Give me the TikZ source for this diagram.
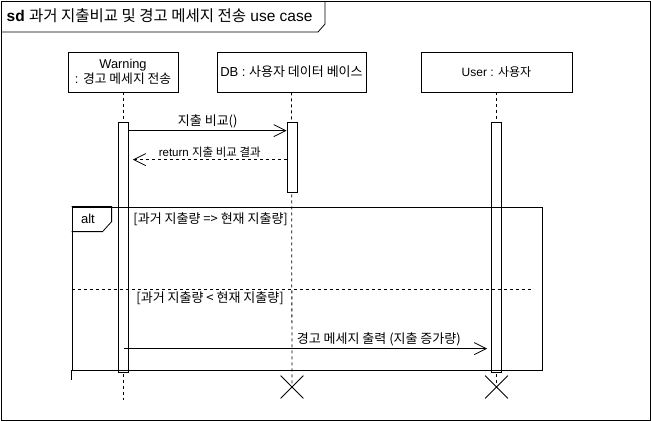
\documentclass[tikz,border=0pt]{standalone}
\usepackage{fontspec}
\setmainfont{Liberation Sans}
\newfontfamily\kr{Noto Sans CJK KR}
\usetikzlibrary{positioning,arrows.meta,shapes.misc}

\begin{document}
\begin{tikzpicture}[x=1pt,y=-1pt,line width=0.8pt,
		party/.style={draw,fill=white,minimum height=40,inner sep=2pt,align=center,font=\fontsize{12}{14}\selectfont},
		actbar/.style={draw,fill=white,minimum width=10,inner sep=0pt},
		msg/.style={-{Straight Barb[length=12pt,width=12pt]}},
		reply/.style={msg,dashed},
		lifeline/.style={dash pattern=on 3pt off 3pt},
		killx/.style={cross out,draw,minimum size=22,inner sep=0pt},
		lbl/.style={font=\fontsize{13}{15}\selectfont,inner sep=2pt},
		smalllbl/.style={font=\fontsize{11.5}{13}\selectfont,inner sep=2pt}]
		\useasboundingbox (0,0) rectangle (651,421);
		%Frame
		\draw (1,1) rectangle (650,420);
		\draw (1,32) -- (318,32) -- (325,24) -- (325,1);
		\node[anchor=west,font=\fontsize{15.5}{17}\selectfont] (title) at (3,16) {\textbf{sd} {\kr 과거 지출비교 및 경고 메세지 전송} use case};
		%Participants
		\node[party,minimum width=110,font=\fontsize{12.8}{14.5}\selectfont] (warn) at (123,72) {Warning\\: {\kr 경고 메세지 전송}};
		\node[party,minimum width=149,font=\fontsize{13}{15}\selectfont] (db) at (291.5,72) {DB : {\kr 사용자 데이터 베이스}};
		\node[party,minimum width=151] (user) at (496.5,72) {User : {\kr 사용자}};
		%Lifelines
		\coordinate (wend) at (123,400);
		\node[killx] (dbx) at (292,387) {};
		\node[killx] (ux) at (496.5,387) {};
		\draw[lifeline] (warn) -- (wend);
		\draw[lifeline] (db) -- (dbx.center);
		\draw[lifeline] (user) -- (ux.center);
		%Activations
		\node[actbar,minimum height=250] (wact) at (123.5,247) {};
		\node[actbar,minimum height=70] (dbact) at (292,157) {};
		\node[actbar,minimum height=250] (uact) at (496.5,247) {};
		%Alt
		\node[draw,minimum width=470,minimum height=163,inner sep=0pt] (altbox) at (307,288.5) {};
		\draw (altbox.south west) -- ++(0,10);
		\draw (altbox.north west) -- ++(40,0) -- ++(0,15) -- ++(-9,10) -- ++(-31,0);
		\node[font=\fontsize{13}{15}\selectfont] (alttag) at (88,219) {alt};
		\coordinate (sep) at (72,289);
		\draw[dashed] (sep) -- ++(460,0);
		\node[lbl,anchor=west] (g1) at (131,219) {\kr [과거 지출량 => 현재 지출량]};
		\node[lbl,anchor=west] (g2) at (134,298) {\kr [과거 지출량 < 현재 지출량]};
		%Messages
		\draw[msg] ([yshift=-9pt]wact.north east) -- ([yshift=-9pt]dbact.north west) node[lbl,midway,above] {\kr 지출 비교()};
		\draw[reply] ([yshift=-38pt]dbact.north west) -- ([xshift=4pt,yshift=-38pt]wact.north east) node[smalllbl,midway,above] {return {\kr 지출 비교 결과}};
		\draw[msg] ([yshift=-227pt]wact.north) -- ([xshift=-4pt,yshift=-227pt]uact.north west) node[lbl,pos=0.47,above right] {\kr 경고 메세지 출력 (지출 증가량)};
\end{tikzpicture}
\end{document}
